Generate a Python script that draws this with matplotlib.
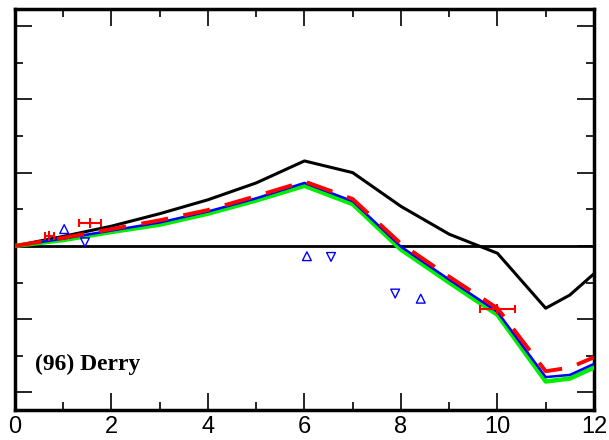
import matplotlib.pyplot as plt
from matplotlib.ticker import MultipleLocator, NullFormatter

# month axis and model curves
months = [0, 1, 2, 3, 4, 5, 6, 7, 8, 9, 10, 11, 11.5, 12]
black = [0, 0.13, 0.27, 0.44, 0.63, 0.86, 1.16, 1.00, 0.54, 0.16, -0.10, -0.85, -0.67, -0.38]
blue = [0, 0.10, 0.21, 0.32, 0.47, 0.65, 0.86, 0.61, -0.01, -0.46, -0.90, -1.79, -1.76, -1.61]
green = [0, 0.08, 0.19, 0.29, 0.44, 0.62, 0.82, 0.57, -0.05, -0.50, -0.94, -1.85, -1.81, -1.66]
red = [0, 0.11, 0.23, 0.35, 0.49, 0.68, 0.88, 0.64, 0.03, -0.42, -0.85, -1.71, -1.66, -1.52]

# observations
up_x = [1.02, 6.05, 8.41]
up_y = [0.23, -0.14, -0.72]
down_x = [1.45, 6.55, 7.88]
down_y = [0.05, -0.15, -0.65]
err_x = [0.71, 1.55, 10.0]
err_y = [0.13, 0.31, -0.86]
err_w = [0.09, 0.23, 0.36]

fig = plt.figure(figsize=(6.09, 4.40), dpi=100)
ax = fig.add_axes([0.0246, 0.068, 0.9507, 0.911])

ax.axhline(0, color="black", lw=2, zorder=1)
ax.plot(months, black, color="black", lw=2.2, zorder=2)
ax.plot(months, green, color="#00ee00", lw=3.2, zorder=3)
ax.plot(months, blue, color="blue", lw=1.8, zorder=4)
ax.plot(months, red, color="red", lw=2.8, dashes=(7, 4), zorder=5)

ax.scatter(up_x, up_y, marker="^", s=40, facecolors="none", edgecolors="blue", lw=1, zorder=6)
ax.scatter(down_x, down_y, marker="v", s=40, facecolors="none", edgecolors="blue", lw=1, zorder=6)
ax.errorbar(err_x, err_y, xerr=err_w, fmt="none", ecolor="red", elinewidth=1.5, capsize=3, capthick=1.5, zorder=6)
ax.plot(err_x, err_y, ls="none", marker="|", ms=7, mew=1.5, color="red", zorder=6)

ax.text(0.41, -1.62, "(96) Derry", family="Liberation Serif", weight="bold", fontsize=17, va="center")

ax.set_xlim(0, 12)
ax.set_ylim(-2.24, 3.23)
ax.xaxis.set_major_locator(MultipleLocator(2))
ax.xaxis.set_minor_locator(MultipleLocator(1))
ax.yaxis.set_major_locator(MultipleLocator(1))
ax.yaxis.set_minor_locator(MultipleLocator(0.5))
ax.yaxis.set_major_formatter(NullFormatter())
ax.tick_params(which="both", direction="in", top=True, right=True, width=1.2)
ax.tick_params(which="major", length=12)
ax.tick_params(which="minor", length=6)
ax.tick_params(axis="x", labelsize=17, pad=4)
for lab in ax.get_xticklabels():
    lab.set_family("Liberation Sans")
for s in ax.spines.values():
    s.set_linewidth(2.5)

fig.savefig("out.png", dpi=100)
